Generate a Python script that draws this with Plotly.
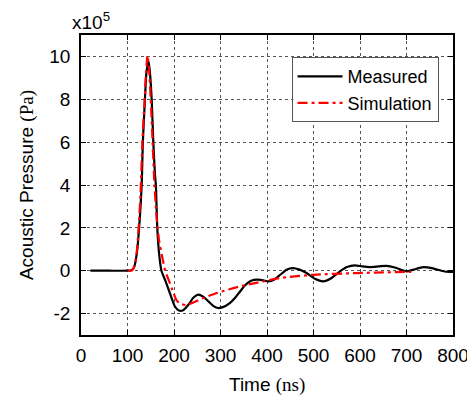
import plotly.graph_objects as go

# Measured (time ns, pressure x1e5 Pa)
meas_t = [20, 60, 100, 108, 114, 120, 125, 130.5, 133, 137.5, 141, 145.5, 148, 152, 155.5,
          159, 161, 164, 168, 173, 180.6, 191, 202, 210, 216.5, 222, 231, 242, 252, 262, 274,
          285, 295, 305, 320, 332, 342, 352, 363, 372, 381, 392, 403, 415, 428, 442, 456, 470,
          485, 503, 521, 538, 557, 572, 589, 605, 621, 640, 657, 675, 690, 700, 715, 736, 755,
          775, 793, 800]
meas_p = [0, 0, 0, 0.02, 0.15, 0.8, 2.0, 4.0, 6.0, 8.0, 9.3, 9.75, 9.3, 8.0, 6.0,
          4.5, 4.0, 2.0, 0.8, 0, -0.42, -1.04, -1.67, -1.85, -1.87, -1.8, -1.59, -1.25, -1.12, -1.2, -1.43,
          -1.65, -1.74, -1.7, -1.51, -1.25, -0.97, -0.7, -0.5, -0.43, -0.42, -0.45, -0.5, -0.42, -0.2, 0.05, 0.12, 0.05,
          -0.11, -0.38, -0.5, -0.35, -0.03, 0.17, 0.25, 0.2, 0.17, 0.2, 0.23, 0.15, 0.03, -0.03, 0.05, 0.17, 0.12,
          0.0, -0.06, -0.05]

# Simulation
sim_t = [100, 110, 116, 120, 124, 128, 132, 137, 140, 143, 146, 150, 154, 158, 163, 168,
         176, 181, 188, 195, 206, 215, 227, 260, 292, 342, 392, 428, 500, 593, 710]
sim_p = [0, 0.02, 0.3, 0.9, 2.0, 3.6, 6.0, 8.0, 9.3, 10.05, 9.5, 8.0, 6.0, 4.0, 2.4, 1.4,
         0.5, 0, -0.4, -0.81, -1.4, -1.55, -1.6, -1.3, -1.04, -0.73, -0.5, -0.34, -0.19, -0.11, -0.05]

x_ticks = [0, 100, 200, 300, 400, 500, 600, 700, 800]
x_labels = ["0", "100", "200", "300", "400", "500", "600", "700", "800"]
y_ticks = [-2, 0, 2, 4, 6, 8, 10]
y_labels = ["-2", "0", "2", "4", "6", "8", "10"]

FONT = "Liberation Sans, Arial"

fig = go.Figure()
fig.add_trace(go.Scatter(x=meas_t, y=meas_p, mode="lines", name="Measured",
                         line=dict(color="black", width=2.2, shape="spline", smoothing=0.6)))
fig.add_trace(go.Scatter(x=sim_t, y=sim_p, mode="lines", name="Simulation",
                         line=dict(color="#ff0000", width=2.2, dash="10px,4px,3px,4px",
                                   shape="spline", smoothing=0.6)))

axis_common = dict(showline=True, linecolor="black", linewidth=1.5, mirror="ticks",
                   ticks="inside", ticklen=5, tickcolor="black", tickwidth=1,
                   showgrid=True, gridcolor="#555555", gridwidth=1, griddash="dot",
                   zeroline=False, automargin=False,
                   tickfont=dict(family=FONT, size=19, color="black"))

fig.update_xaxes(range=[0, 800], tickvals=x_ticks, ticktext=x_labels, ticklabelstandoff=2,
                 **axis_common)
fig.update_yaxes(range=[-3, 11], tickvals=y_ticks, ticktext=y_labels, ticklabelstandoff=5,
                 **axis_common)

fig.add_annotation(x=0.5, y=-0.165, xref="paper", yref="paper", xanchor="center", yanchor="middle",
                   text="Time <span style='font-family:Liberation Serif'>(ns)</span>", showarrow=False,
                   font=dict(family=FONT, size=19, color="black"))
fig.add_annotation(x=-0.145, y=0.5, xref="paper", yref="paper", xanchor="center", yanchor="middle",
                   textangle=-90,
                   text="Acoustic Pressure <span style='font-family:Liberation Serif'>(Pa)</span>",
                   showarrow=False, font=dict(family=FONT, size=19, color="black"))
fig.add_annotation(x=-0.03, y=1.0, xref="paper", yref="paper", xanchor="left", yanchor="bottom",
                   text="x10<sup>5</sup>", showarrow=False,
                   font=dict(family=FONT, size=19, color="black"))

# page body has an 8px margin, so the figure is shifted by 8px; compensate
fig.update_layout(
    width=467, height=393,
    margin=dict(l=73, r=22, t=27, b=66),
    plot_bgcolor="white", paper_bgcolor="white",
    legend=dict(x=0.566, y=0.926, xanchor="left", yanchor="top",
                bgcolor="white", bordercolor="#555555", borderwidth=1,
                font=dict(family=FONT, size=18, color="black"),
                itemwidth=45, tracegroupgap=0),
    showlegend=True,
)

fig.write_html("out.html")
